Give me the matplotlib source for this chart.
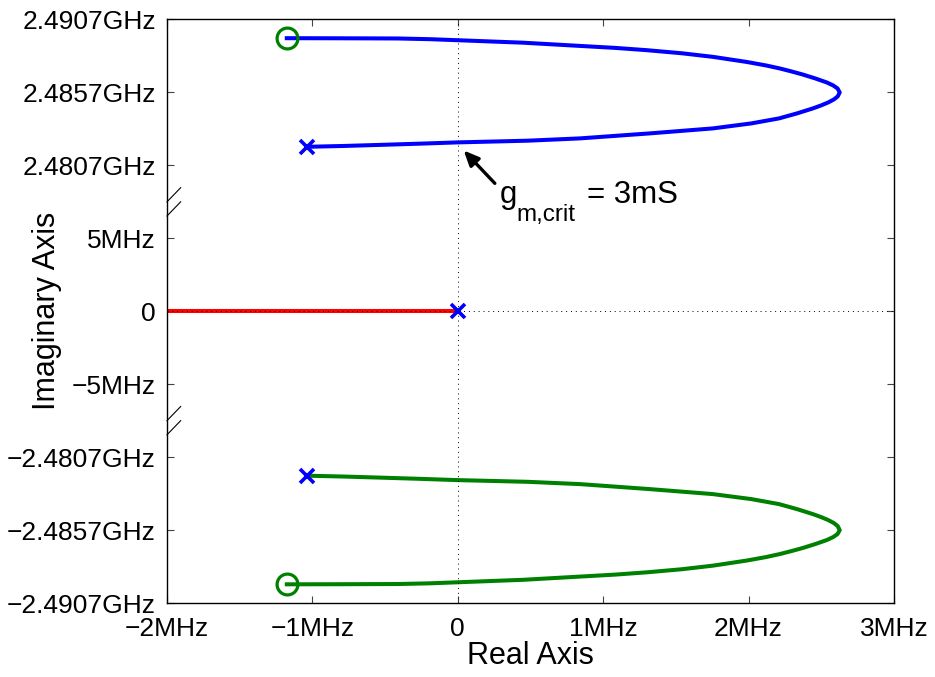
import matplotlib
matplotlib.use("Agg")
import matplotlib.pyplot as plt
import numpy as np

plt.rcParams['font.family'] = ['Liberation Sans', 'DejaVu Sans']

# Plot coordinates: x in MHz; y in compressed units (axis breaks), 5 units per tick
upper_x = [-1.176, -0.812, -0.413, -0.193, -0.007, 0.447, 0.835, 1.080, 1.300, 1.541,
           1.756, 1.988, 2.121, 2.215, 2.296, 2.371, 2.459, 2.538, 2.582, 2.612, 2.627]
upper_y = [18.719, 18.712, 18.699, 18.651, 18.582, 18.411, 18.192, 18.055, 17.897, 17.685,
           17.438, 17.089, 16.849, 16.644, 16.438, 16.233, 15.959, 15.685, 15.479, 15.274, 15.000]
lower_x = [2.613, 2.587, 2.548, 2.499, 2.442, 2.333, 2.209, 2.019, 1.754, 1.320,
           0.839, 0.481, -0.003, -0.268, -0.536, -0.791, -1.034]
lower_y = [14.726, 14.521, 14.315, 14.110, 13.904, 13.562, 13.219, 12.877, 12.534, 12.192,
           11.849, 11.692, 11.575, 11.486, 11.404, 11.329, 11.274]

blue_branch_x = upper_x + lower_x
blue_branch_y = upper_y + lower_y
green_branch_x = blue_branch_x
green_branch_y = [-v for v in blue_branch_y]

real_axis_x = [-2.0, 0.0]
real_axis_y = [0.0, 0.0]

poles_x = [-1.034, -1.034, 0.0]
poles_y = [11.274, -11.274, 0.0]
zeros_x = [-1.176, -1.176]
zeros_y = [18.719, -18.719]

xticks = [-2, -1, 0, 1, 2, 3]
xticklabels = ['\u22122MHz', '\u22121MHz', '0', '1MHz', '2MHz', '3MHz']
yticks = [-20, -15, -10, -5, 0, 5, 10, 15, 20]
yticklabels = ['\u22122.4907GHz', '\u22122.4857GHz', '\u22122.4807GHz', '\u22125MHz', '0',
               '5MHz', '2.4807GHz', '2.4857GHz', '2.4907GHz']
breaks = [7.5, -7.5]

fig = plt.figure(figsize=(9.35, 6.77), dpi=100)
ax = fig.add_axes([0.1786, 0.1093, 0.9561 - 0.1786, 0.9712 - 0.1093])

ax.plot(real_axis_x, real_axis_y, color=(1, 0, 0), lw=2.9, zorder=2, solid_capstyle='butt')
ax.plot(blue_branch_x, blue_branch_y, color=(0, 0, 1), lw=2.9, zorder=2, solid_joinstyle='round')
ax.plot(green_branch_x, green_branch_y, color=(0, 0.5, 0), lw=2.9, zorder=2, solid_joinstyle='round')

ax.axvline(0, color='black', ls=(0, (1, 4)), lw=0.7, zorder=3)
ax.axhline(0, color='black', ls=(0, (1, 4)), lw=0.7, zorder=3)

ax.plot(poles_x, poles_y, ls='none', marker='x', color=(0, 0, 1), ms=10, mew=2.6, zorder=4)
ax.plot(zeros_x, zeros_y, ls='none', marker='o', mfc='none', mec=(0, 0.5, 0), ms=15, mew=2.3, zorder=4)

ax.set_xlim(-2, 3)
ax.set_ylim(-20, 20)
ax.set_xticks(xticks)
ax.set_xticklabels(xticklabels)
ax.set_yticks(yticks)
ax.set_yticklabels(yticklabels)
ax.tick_params(direction='in', length=5, width=0.8, color='#444444', labelsize=19,
               top=True, right=True, pad=8)
ax.tick_params(axis='x', pad=10)
for s in ax.spines.values():
    s.set_linewidth(1.0)

ax.set_xlabel('Real Axis', fontsize=22, labelpad=0)
ax.set_ylabel('Imaginary Axis', fontsize=22)
ax.yaxis.set_label_coords(-0.144, 0.5)

# axis break marks
for b in breaks:
    for off in (0.0, -0.97):
        ax.plot([-2.0, -2.0 + 0.094], [b + off, b + off + 0.97], color='black', lw=0.8,
                clip_on=False, zorder=5)

ax.annotate('', xy=(0.0275, 11.16), xytext=(0.268, 8.63),
            arrowprops=dict(arrowstyle='-|>,head_length=0.9,head_width=0.4', color='black', lw=2.4))
ax.text(0.289, 7.40, 'g', fontsize=22.5, va='baseline', ha='left')
ax.text(0.406, 6.16, 'm,crit', fontsize=17.5, va='baseline', ha='left')
ax.text(0.887, 7.40, '= 3mS', fontsize=22.5, va='baseline', ha='left')

fig.savefig('out.png', dpi=100)
